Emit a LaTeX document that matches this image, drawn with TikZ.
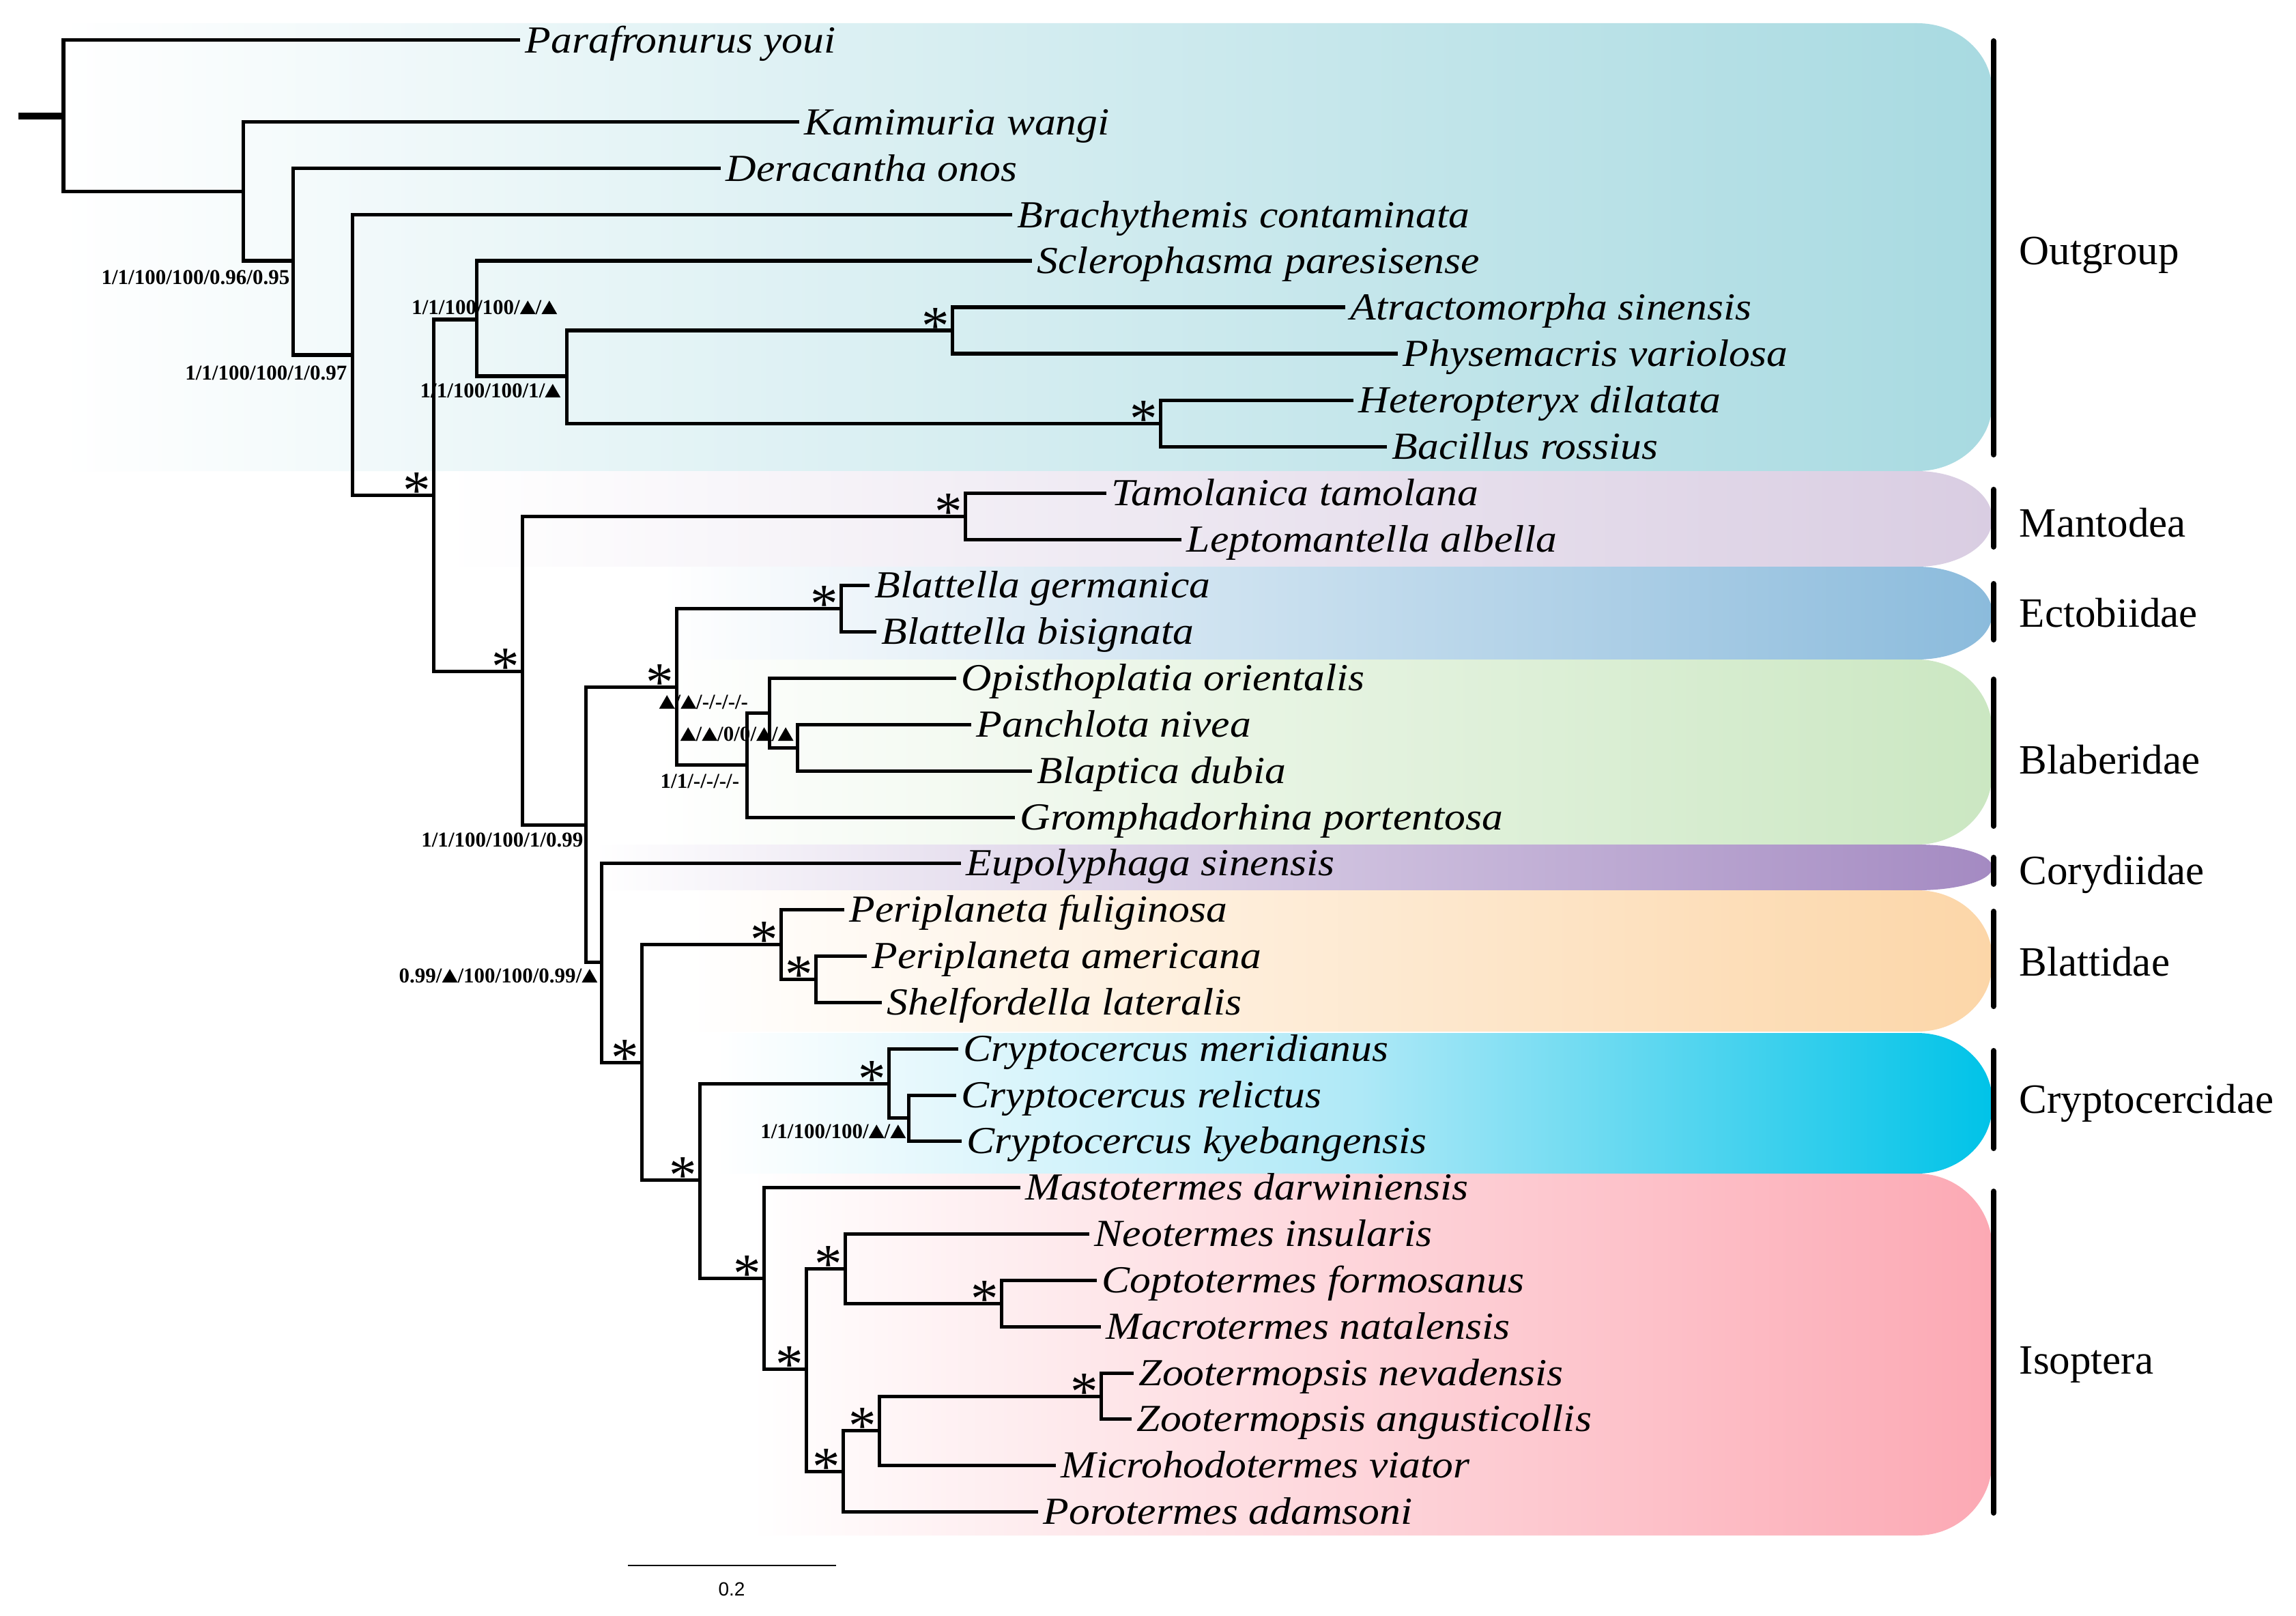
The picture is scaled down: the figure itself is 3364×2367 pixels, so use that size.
\documentclass[tikz,border=0pt]{standalone}
\usepackage{fontspec}
\setmainfont{Liberation Serif}
\newfontfamily\taxfont[FakeStretch=1.1]{Liberation Serif}
\newfontfamily\sbfont{Liberation Sans}
\newcommand{\tri}{\tikz[baseline=0pt,x=1em,y=1em]\fill (0,0)--(0.74,0)--(0.37,0.64)--cycle;}
\definecolor{ogR}{HTML}{A8DAE1}
\definecolor{maR}{HTML}{D9CDE2}
\definecolor{ecR}{HTML}{8BBBDC}
\definecolor{blR}{HTML}{CBE7C2}
\definecolor{coR}{HTML}{A48AC2}
\definecolor{btR}{HTML}{FCD6A8}
\definecolor{crR}{HTML}{00C3E8}
\definecolor{crM}{HTML}{B0E9F7}
\definecolor{isR}{HTML}{FCA9B4}
% #1 left x, #2 top y, #3 bottom y, #4 corner radius (vertical)
\newcommand{\bandpath}[4]{(#1,#2) -- (2809,#2) .. controls (2870,#2) and (2919,{#2+0.448*#4}) .. (2919,{#2+#4}) -- (2919,{#3-#4}) .. controls (2919,{#3-0.448*#4}) and (2870,#3) .. (2809,#3) -- (#1,#3) -- cycle}
\begin{document}
\begin{tikzpicture}[x=0.01cm,y=-0.01cm,
  br/.style={line width=0.05cm},
  tax/.style={anchor=base west,inner sep=0pt,xshift=0.07cm,yshift=-0.185cm,
    font=\taxfont\itshape\fontsize{15.94pt}{18pt}\selectfont},
  sup/.style={inner sep=0pt,font=\bfseries\fontsize{8.82pt}{9pt}\selectfont},
  starn/.style={inner sep=0pt,font=\fontsize{23pt}{24pt}\selectfont},
  grp/.style={anchor=base west,inner sep=0pt,font=\fontsize{17.36pt}{18pt}\selectfont},
  bar/.style={line width=0.08cm,line cap=round}]
\useasboundingbox (0,0) rectangle (3364,2367);
\fill[white] (0,0) rectangle (3364,2367);
% ---- coloured bands ----
\path[left color=white,right color=ogR] \bandpath{90}{34}{690}{100};
\path[left color=white,right color=maR] \bandpath{650}{690}{830}{70};
\path[left color=white,right color=ecR] \bandpath{970}{830}{966}{68};
\path[left color=white,right color=blR] \bandpath{960}{966}{1237}{105};
\path[left color=white,right color=coR] \bandpath{870}{1237}{1304}{33};
\path[left color=white,right color=btR] \bandpath{1000}{1304}{1511}{100};
\path[left color=white,right color=crR,middle color=crM] \bandpath{1050}{1513}{1719}{100};
\path[left color=white,right color=isR] \bandpath{1100}{1719}{2249}{110};
% ---- internal nodes ----
\coordinate (stub) at (27,170);
\coordinate (nR) at (93,170);
\coordinate (nA) at (356,281);
\coordinate (nB) at (429,382);
\coordinate (nC) at (516,520);
\coordinate (nD) at (635,725);
\coordinate (nE) at (698,468);
\coordinate (nF) at (830,551);
\coordinate (nG) at (1395,484);
\coordinate (nH) at (1700,620);
\coordinate (nI) at (765,983);
\coordinate (nMa) at (1414,756);
\coordinate (nJ) at (858,1208);
\coordinate (nBB) at (991,1006);
\coordinate (nBL) at (1232,891);
\coordinate (nBAa) at (1094,1120);
\coordinate (nBAb) at (1127,1044);
\coordinate (nBAc) at (1168,1095);
\coordinate (nK) at (881,1409);
\coordinate (nL) at (940,1556);
\coordinate (nBT) at (1144,1383);
\coordinate (nBTb) at (1195,1434);
\coordinate (nM) at (1025,1728);
\coordinate (nCRa) at (1302,1587);
\coordinate (nCRb) at (1331,1637);
\coordinate (nN) at (1119,1872);
\coordinate (nO) at (1181,2005);
\coordinate (nP) at (1238,1858);
\coordinate (nQ) at (1467,1909);
\coordinate (nRb) at (1235,2155);
\coordinate (nS) at (1288,2095);
\coordinate (nT) at (1613,2045);
% ---- tips ----
\foreach \i/\x/\y in {1/762/59,2/1171/179,3/1056/247,4/1483/315,5/1512/382,6/1971/450,7/2048/518,8/1983/586,9/2032/654,10/1621/722,11/1731/790,12/1274/857,13/1284/925,14/1401/993,15/1423/1061,16/1512/1129,17/1487/1197,18/1408/1264,19/1237/1332,20/1270/1400,21/1292/1468,22/1404/1536,23/1401/1604,24/1409/1671,25/1495/1739,26/1596/1807,27/1607/1875,28/1613/1943,29/1661/2011,30/1658/2078,31/1547/2146,32/1521/2214}
  \coordinate (e\i) at (\x,\y);
% ---- branches ----
\draw[line width=0.1cm] (stub) -- (nR);
\foreach \p/\c in {nR/e1,nR/nA,nA/e2,nA/nB,nB/e3,nB/nC,nC/e4,nC/nD,nD/nE,nD/nI,nE/e5,nE/nF,nF/nG,nF/nH,nG/e6,nG/e7,nH/e8,nH/e9,nI/nMa,nI/nJ,nMa/e10,nMa/e11,nJ/nBB,nJ/nK,nBB/nBL,nBB/nBAa,nBL/e12,nBL/e13,nBAa/nBAb,nBAa/e17,nBAb/e14,nBAb/nBAc,nBAc/e15,nBAc/e16,nK/e18,nK/nL,nL/nBT,nL/nM,nBT/e19,nBT/nBTb,nBTb/e20,nBTb/e21,nM/nCRa,nM/nN,nCRa/e22,nCRa/nCRb,nCRb/e23,nCRb/e24,nN/e25,nN/nO,nO/nP,nO/nRb,nP/e26,nP/nQ,nQ/e27,nQ/e28,nRb/nS,nRb/e32,nS/nT,nS/e31,nT/e29,nT/e30}
  \draw[br] (\p) |- (\c);
% ---- taxon labels ----
\node[tax] (l1) at (e1) {Parafronurus youi};
\node[tax] (l2) at (e2) {Kamimuria wangi};
\node[tax] (l3) at (e3) {Deracantha onos};
\node[tax] (l4) at (e4) {Brachythemis contaminata};
\node[tax] (l5) at (e5) {Sclerophasma paresisense};
\node[tax] (l6) at (e6) {Atractomorpha sinensis};
\node[tax] (l7) at (e7) {Physemacris variolosa};
\node[tax] (l8) at (e8) {Heteropteryx dilatata};
\node[tax] (l9) at (e9) {Bacillus rossius};
\node[tax] (l10) at (e10) {Tamolanica tamolana};
\node[tax] (l11) at (e11) {Leptomantella albella};
\node[tax] (l12) at (e12) {Blattella germanica};
\node[tax] (l13) at (e13) {Blattella bisignata};
\node[tax] (l14) at (e14) {Opisthoplatia orientalis};
\node[tax] (l15) at (e15) {Panchlota nivea};
\node[tax] (l16) at (e16) {Blaptica dubia};
\node[tax] (l17) at (e17) {Gromphadorhina portentosa};
\node[tax] (l18) at (e18) {Eupolyphaga sinensis};
\node[tax] (l19) at (e19) {Periplaneta fuliginosa};
\node[tax] (l20) at (e20) {Periplaneta americana};
\node[tax] (l21) at (e21) {Shelfordella lateralis};
\node[tax] (l22) at (e22) {Cryptocercus meridianus};
\node[tax] (l23) at (e23) {Cryptocercus relictus};
\node[tax] (l24) at (e24) {Cryptocercus kyebangensis};
\node[tax] (l25) at (e25) {Mastotermes darwiniensis};
\node[tax] (l26) at (e26) {Neotermes insularis};
\node[tax] (l27) at (e27) {Coptotermes formosanus};
\node[tax] (l28) at (e28) {Macrotermes natalensis};
\node[tax] (l29) at (e29) {Zootermopsis nevadensis};
\node[tax] (l30) at (e30) {Zootermopsis angusticollis};
\node[tax] (l31) at (e31) {Microhodotermes viator};
\node[tax] (l32) at (e32) {Porotermes adamsoni};
% ---- asterisks ----
\foreach \n in {nD,nI,nG,nH,nMa,nBL,nBB,nBT,nBTb,nL,nM,nN,nO,nCRa,nP,nQ,nRb,nS,nT}
  \node[starn] (s\n) at ([shift={(-24,-6)}]\n) {*};
% ---- support values ----
\node[sup,anchor=east] (v1) at (425,406) {1/1/100/100/0.96/0.95};
\node[sup,anchor=east] (v2) at (509,546) {1/1/100/100/1/0.97};
\node[sup,anchor=east] (v3) at (817,450) {1/1/100/100/\tri/\tri};
\node[sup,anchor=east] (v4) at (822,572) {1/1/100/100/1/\tri};
\node[sup,anchor=east] (v5) at (855,1230) {1/1/100/100/1/0.99};
\node[sup,anchor=west] (v6) at (965,1028) {\tri/\tri/-/-/-/-};
\node[sup,anchor=west] (v7) at (996,1075) {\tri/\tri/0/0/\tri/\tri};
\node[sup,anchor=west] (v8) at (967,1144) {1/1/-/-/-/-};
\node[sup,anchor=east] (v9) at (876,1429) {0.99/\tri/100/100/0.99/\tri};
\node[sup,anchor=east] (v10) at (1328,1657) {1/1/100/100/\tri/\tri};
% ---- group brackets and names ----
\foreach \g/\a/\b in {og/60/666,ma/717/801,ec/855/937,bl/995/1210,co/1256/1295,bt/1335/1474,cr/1539/1682,is/1745/2216}{
  \coordinate (\g top) at (2921,\a);
  \coordinate (\g bot) at (2921,\b);
  \draw[bar] (\g top) -- (\g bot);
}
\node[grp] (gog) at (2958,387) {Outgroup};
\node[grp] (gma) at (2958,786) {Mantodea};
\node[grp] (gec) at (2958,918) {Ectobiidae};
\node[grp] (gbl) at (2958,1133) {Blaberidae};
\node[grp] (gco) at (2958,1295) {Corydiidae};
\node[grp] (gbt) at (2958,1429) {Blattidae};
\node[grp] (gcr) at (2958,1630) {Cryptocercidae};
\node[grp] (gis) at (2958,2012) {Isoptera};
% ---- scale bar ----
\coordinate (sba) at (920,2293);
\coordinate (sbb) at (1225,2293);
\draw[line width=0.025cm] (sba) -- (sbb);
\node[inner sep=0pt,font=\sbfont\fontsize{7.97pt}{9pt}\selectfont] (sbl) at (1072,2328) {0.2};
\end{tikzpicture}
\end{document}
